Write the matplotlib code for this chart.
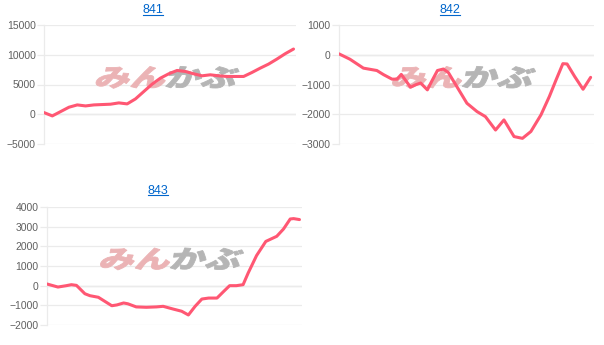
import matplotlib
matplotlib.use('Agg')
import matplotlib.pyplot as plt
from matplotlib.font_manager import FontProperties
from matplotlib.textpath import TextPath
from matplotlib.patches import PathPatch
from matplotlib.transforms import Affine2D
from matplotlib.lines import Line2D

W, H = 604, 345

# readings from the reference (x = race index, y = balance)
x_841 = list(range(31))
y_841 = [280, -280, 450, 1180, 1570, 1400, 1570, 1630, 1690, 1910, 1740, 2580,
         3820, 5060, 6070, 6800, 7360, 7190, 6800, 6460, 6630, 6460, 6350, 6350,
         6350, 7020, 7750, 8430, 9270, 10170, 10960]

x_842 = [0, 1.3, 2.9, 3.9, 4.5, 5.3, 6.3, 6.9, 7.4, 8.5, 9.1, 9.7, 10.5, 11.0,
         11.7, 12.4, 13.0, 14.0, 15.2, 16.4, 17.4, 18.6, 19.6, 20.8, 21.8, 22.8,
         24.0, 25.0, 25.8, 26.6, 27.1, 28.0, 29.0, 29.9]
y_842 = [30, -150, -450, -500, -530, -670, -820, -820, -660, -1090, -1010, -950,
         -1180, -900, -530, -480, -600, -1070, -1630, -1910, -2080, -2530, -2190,
         -2750, -2810, -2580, -2020, -1400, -840, -300, -310, -730, -1160, -760]

x_843 = [0, 1.3, 2.3, 2.9, 3.5, 4.5, 5.1, 6.1, 7.7, 8.3, 9.1, 9.6, 10.6, 11.8,
         13.0, 13.8, 15.0, 16.0, 16.8, 17.6, 18.4, 19.2, 20.2, 21.0, 21.7, 22.5,
         23.3, 23.9, 24.9, 26.0, 27.3, 28.1, 28.9, 29.3, 30.0]
y_843 = [85, -70, 0, 50, 15, -410, -510, -590, -1020, -980, -880, -920, -1080,
         -1100, -1080, -1050, -1190, -1300, -1490, -1050, -680, -630, -630, -290,
         0, 0, 50, 640, 1530, 2250, 2510, 2880, 3390, 3410, 3360]

titles = ['841', '842', '843']
yticks_841 = [-5000, 0, 5000, 10000, 15000]
yticks_842 = [-3000, -2000, -1000, 0, 1000]
yticks_843 = [-2000, -1000, 0, 1000, 2000, 3000, 4000]

LINE = '#ff5773'
GRID = '#ebebeb'
TICKC = '#606060'

panels = [
    (titles[0], x_841, y_841, yticks_841, (44, 25, 296, 144), (153, 10)),
    (titles[1], x_842, y_842, yticks_842, (339, 25, 594, 144), (450, 10)),
    (titles[2], x_843, y_843, yticks_843, (47, 207, 302, 325), (158, 191)),
]

fig = plt.figure(figsize=(W / 100, H / 100), dpi=100)
fp_wm = FontProperties(family='Noto Sans CJK JP', weight='black')


def watermark(ax):
    p1 = TextPath((0, 0), 'みん', size=1, prop=fp_wm)
    p2 = TextPath((0, 0), 'かぶ', size=1, prop=fp_wm)
    e1 = p1.get_extents()
    e2 = p2.get_extents()
    shift = e1.x1 + 0.05 - e2.x0
    tw = shift + e2.x1 - e1.x0
    y0 = min(e1.y0, e2.y0)
    th = max(e1.y1, e2.y1) - y0
    cx, cy = ax.transAxes.transform((0.49, 0.56))
    base = Affine2D().translate(-e1.x0 - tw / 2, -y0 - th / 2)
    fit = Affine2D().scale(140 / tw, 22 / th).skew_deg(16, 0).translate(cx, cy)
    ax.add_artist(PathPatch(p1, transform=base + fit, fc='#ebb3b5', ec='#ebb3b5',
                            lw=0.6, zorder=1))
    ax.add_artist(PathPatch(p2, transform=Affine2D().translate(shift, 0) + base + fit,
                            fc='#b5b5b5', ec='#b5b5b5', lw=0.6, zorder=1))


title_texts = []
for title, xs, ys, ticks, (l, t, r, b), (tx, ty) in panels:
    ax = fig.add_axes([l / W, 1 - b / H, (r - l) / W, (b - t) / H])
    ax.plot(xs, ys, color=LINE, linewidth=2.2, solid_capstyle='round',
            solid_joinstyle='round', zorder=3)
    ax.set_xlim(0, 30.3)
    ax.set_ylim(ticks[0], ticks[-1])
    ax.set_yticks(ticks)
    ax.set_xticks([])
    ax.yaxis.grid(True, color=GRID, linewidth=0.9)
    ax.axhline(0, color='#d4d4d4', linewidth=0.9, zorder=0.5)
    for s in ['top', 'right', 'bottom']:
        ax.spines[s].set_visible(False)
    ax.spines['left'].set_color(GRID)
    ax.spines['left'].set_linewidth(0.9)
    ax.tick_params(axis='y', length=5, width=0.9, color=GRID, pad=1,
                   labelsize=7.5, labelcolor=TICKC)
    for lab in ax.get_yticklabels():
        lab.set_fontfamily('Liberation Sans')
    ax.set_axisbelow(True)
    watermark(ax)
    tt = fig.text(tx / W, 1 - ty / H, title, ha='center', va='center',
                  color='#0066cc', fontsize=9, family='Liberation Sans')
    title_texts.append(tt)

# underline the titles like links
fig.canvas.draw()
inv = fig.transFigure.inverted()
for tt in title_texts:
    bb = tt.get_window_extent()
    (x0, y0), (x1, _) = inv.transform([(bb.x0, bb.y0 + 1.5), (bb.x1, bb.y0 + 1.5)])
    fig.add_artist(Line2D([x0, x1], [y0, y0], color='#0066cc', linewidth=0.8))

plt.savefig('out.png', dpi=100)
